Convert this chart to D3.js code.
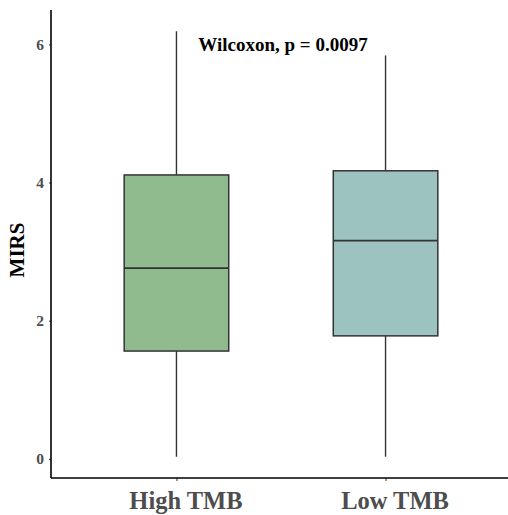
<!DOCTYPE html>
<html>
<head>
<meta charset="utf-8">
<script src="https://cdn.jsdelivr.net/npm/d3@7"></script>
<style>
  html, body { margin: 0; padding: 0; background: #ffffff; }
  svg { display: block; }
</style>
</head>
<body>
<svg id="chart" width="508" height="515"></svg>
<script>
// MIRS by TMB group: box summary statistics
const groups = ["High TMB", "Low TMB"];
const whiskerLow = [0.03, 0.03];
const q1 = [1.56, 1.78];
const median = [2.76, 3.16];
const q3 = [4.11, 4.17];
const whiskerHigh = [6.19, 5.84];
const fills = ["#8fbb8f", "#9dc3c1"];
const yTicks = [0, 2, 4, 6];
const testLabel = "Wilcoxon, p = 0.0097";

const rows = groups.map((g, i) => ({
  group: g, lo: whiskerLow[i], q1: q1[i], med: median[i], q3: q3[i], hi: whiskerHigh[i], fill: fills[i]
}));

const svg = d3.select("#chart");
const panel = { left: 51, right: 511, top: 10, bottom: 478 };
const serif = "'Liberation Serif', 'Times New Roman', serif";
const ink = "#333333";

// y range with 5% padding beyond the data
const dMin = d3.min(whiskerLow), dMax = d3.max(whiskerHigh);
const pad = (dMax - dMin) * 0.05;
const y = d3.scaleLinear().domain([dMin - pad, dMax + pad]).range([panel.bottom, panel.top]);
const x = d3.scalePoint().domain(groups).range([panel.left, panel.right]).padding(0.6);
const boxW = x.step() * 0.5;

// boxes
const g = svg.append("g");
rows.forEach(d => {
  const cx = x(d.group);
  g.append("line").attr("x1", cx).attr("x2", cx).attr("y1", y(d.hi)).attr("y2", y(d.q3))
    .attr("stroke", ink).attr("stroke-width", 1.4);
  g.append("line").attr("x1", cx).attr("x2", cx).attr("y1", y(d.q1)).attr("y2", y(d.lo))
    .attr("stroke", ink).attr("stroke-width", 1.4);
  g.append("rect").attr("x", cx - boxW / 2).attr("width", boxW)
    .attr("y", y(d.q3)).attr("height", y(d.q1) - y(d.q3))
    .attr("fill", d.fill).attr("stroke", ink).attr("stroke-width", 1.5);
  g.append("line").attr("x1", cx - boxW / 2).attr("x2", cx + boxW / 2)
    .attr("y1", y(d.med)).attr("y2", y(d.med))
    .attr("stroke", ink).attr("stroke-width", 1.7);
});

// y axis
const yAxis = svg.append("g").attr("transform", `translate(${panel.left},0)`)
  .call(d3.axisLeft(y).tickValues(yTicks).tickSize(2).tickPadding(5).tickFormat(d3.format("d")));
yAxis.select(".domain").remove();
yAxis.selectAll(".tick line").attr("stroke", ink);
yAxis.selectAll(".tick text").attr("fill", "#4d4d4d")
  .style("font-family", serif).style("font-weight", "bold").style("font-size", "15.5px");
svg.append("line").attr("x1", panel.left).attr("x2", panel.left)
  .attr("y1", panel.top).attr("y2", panel.bottom)
  .attr("stroke", "#000").attr("stroke-width", 1.6);

// x axis
const xAxis = svg.append("g").attr("transform", `translate(0,${panel.bottom})`)
  .call(d3.axisBottom(x).tickSize(3).tickPadding(11));
xAxis.select(".domain").remove();
xAxis.selectAll(".tick line").attr("stroke", ink);
xAxis.selectAll(".tick text").attr("fill", "#4d4d4d").attr("dx", 9)
  .style("font-family", serif).style("font-weight", "bold").style("font-size", "24.5px");
svg.append("line").attr("x1", panel.left).attr("x2", 508)
  .attr("y1", panel.bottom).attr("y2", panel.bottom)
  .attr("stroke", "#000").attr("stroke-width", 1.6);

// axis title
svg.append("text").attr("transform", "translate(24,250) rotate(-90)")
  .attr("text-anchor", "middle").attr("fill", "#000")
  .style("font-family", serif).style("font-weight", "bold").style("font-size", "21px")
  .text("MIRS");

// test annotation
svg.append("text").attr("x", (x(groups[0]) + x(groups[1])) / 2 + 2).attr("y", 50.5)
  .attr("text-anchor", "middle").attr("fill", "#000")
  .style("font-family", serif).style("font-weight", "bold").style("font-size", "19px")
  .text(testLabel);
</script>
</body>
</html>
